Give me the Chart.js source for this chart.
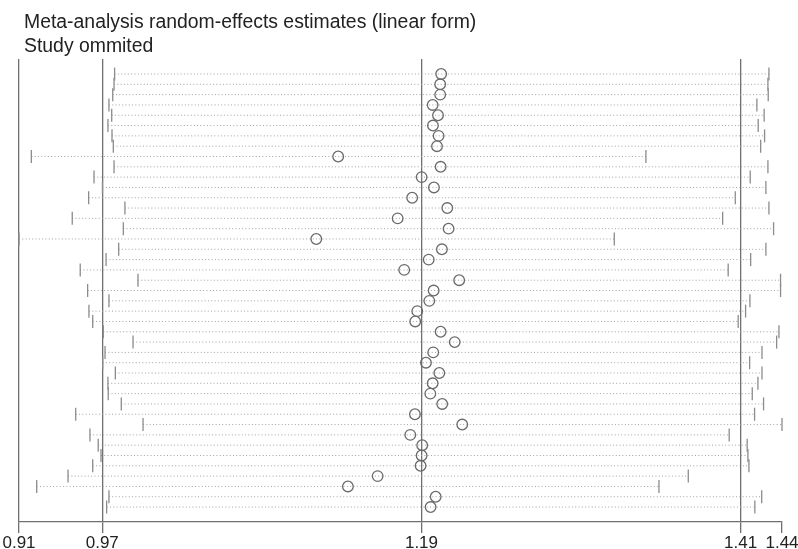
<!DOCTYPE html>
<html>
<head>
<meta charset="utf-8">
<script src="https://cdn.jsdelivr.net/npm/chart.js@4/dist/chart.umd.min.js"></script>
<style>
  html, body { margin: 0; padding: 0; background: #fff; }
  canvas { display: block; }
</style>
</head>
<body>
<canvas id="myChart" width="798" height="549"></canvas>
<script>
var titleLines = ['Meta-analysis random-effects estimates (linear form)', 'Study ommited'];

// one value per omitted study, top row first
var estimate = [1.2036, 1.2029, 1.2029, 1.1977, 1.2014, 1.1979, 1.2018, 1.2007, 1.1326, 1.2032,
                1.1901, 1.1986, 1.1836, 1.2078, 1.1736, 1.2087, 1.1175, 1.2041, 1.1950, 1.1781,
                1.2160, 1.1984, 1.1954, 1.1871, 1.1857, 1.2032, 1.2129, 1.1981, 1.1931, 1.2023,
                1.1977, 1.1961, 1.2043, 1.1855, 1.2181, 1.1823, 1.1905, 1.1901, 1.1894, 1.1598,
                1.1393, 1.1998, 1.1963];
var lowerCI = [0.9785, 0.9781, 0.9772, 0.9746, 0.9765, 0.9739, 0.9767, 0.9776, 0.9211, 0.9781,
               0.9643, 0.9701, 0.9606, 0.9856, 0.9493, 0.9845, 0.9126, 0.9813, 0.9726, 0.9548,
               0.9946, 0.9599, 0.9746, 0.9608, 0.9634, 0.9707, 0.9912, 0.9719, 0.9703, 0.9790,
               0.9739, 0.9741, 0.9831, 0.9517, 0.9981, 0.9615, 0.9672, 0.9691, 0.9634, 0.9464,
               0.9248, 0.9746, 0.9730];
var upperCI = [1.4295, 1.4288, 1.4290, 1.4212, 1.4262, 1.4221, 1.4265, 1.4238, 1.3447, 1.4288,
               1.4166, 1.4274, 1.4063, 1.4295, 1.3976, 1.4327, 1.3229, 1.4274, 1.4169, 1.4014,
               1.4375, 1.4375, 1.4164, 1.4134, 1.4083, 1.4364, 1.4348, 1.4247, 1.4162, 1.4247,
               1.4219, 1.4180, 1.4258, 1.4196, 1.4385, 1.4021, 1.4145, 1.4150, 1.4157, 1.3739,
               1.3537, 1.4245, 1.4198];

// axis: lowest CI, pooled lower CI, pooled estimate, pooled upper CI, highest CI
var tickValues = [0.9126, 0.97, 1.19, 1.41, 1.4385];
var tickLabels = ['0.91', '0.97', '1.19', '1.41', '1.44'];

function buildDatasets()
{
    var datasets = [];
    var pts = [];
    for (var i = 0; i < estimate.length; i++) {
        pts.push({x: estimate[i], y: i + 1});
    }
    datasets.push({
        data: pts,
        order: 0,
        showLine: false,
        clip: false,
        pointStyle: 'circle',
        pointRadius: 5.3,
        pointBorderWidth: 1.3,
        pointBorderColor: '#6a6a6a',
        pointBackgroundColor: 'rgba(0,0,0,0)'
    });
    for (var j = 0; j < lowerCI.length; j++) {
        datasets.push({
            data: [{x: lowerCI[j], y: j + 1}, {x: upperCI[j], y: j + 1}],
            order: 1,
            showLine: true,
            clip: false,
            borderColor: '#a2a2a2',
            borderWidth: 1,
            borderDash: [1, 2.3],
            pointStyle: 'line',
            pointRotation: 90,
            pointRadius: 6.5,
            pointBorderWidth: 1.3,
            pointBorderColor: '#8c8c8c'
        });
    }
    return datasets;
}

// title sits a little to the right of the left axis line
var titleShift = {
    id: 'titleShift',
    afterLayout: function (chart) {
        if (chart.titleBlock) {
            chart.titleBlock.left += 5;
            chart.titleBlock.right += 5;
        }
    }
};

var ctx = document.getElementById('myChart').getContext('2d');
var chart = new Chart(ctx, {
    type: 'scatter',
    data: { datasets: buildDatasets() },
    plugins: [titleShift],
    options: {
        responsive: false,
        animation: false,
        events: [],
        layout: { padding: { left: 19, right: 16, top: 0, bottom: -5 } },
        plugins: {
            legend: { display: false },
            tooltip: { enabled: false },
            title: {
                display: true,
                text: titleLines,
                align: 'start',
                color: '#222',
                font: { family: 'Liberation Sans, Arial, sans-serif', size: 19.4, weight: 'normal', lineHeight: 1.2 },
                padding: { top: 11.5, bottom: 1 }
            }
        },
        scales: {
            x: {
                type: 'linear',
                min: tickValues[0],
                max: tickValues[tickValues.length - 1],
                afterBuildTicks: function (scale) {
                    scale.ticks = tickValues.map(function (v) { return {value: v}; });
                },
                afterFit: function (scale) {
                    scale.paddingLeft = 0;
                    scale.paddingRight = 0;
                },
                grid: {
                    drawOnChartArea: true,
                    drawTicks: true,
                    tickLength: 11,
                    lineWidth: 1.3,
                    color: function (c) {
                        return c.index === tickValues.length - 1 ? 'rgba(0,0,0,0)' : '#707070';
                    },
                    tickColor: '#707070',
                    tickWidth: 1.3
                },
                border: { display: true, color: '#707070', width: 1.3 },
                ticks: {
                    autoSkip: false,
                    maxRotation: 0,
                    padding: 2,
                    color: '#222',
                    font: { family: 'Liberation Sans, Arial, sans-serif', size: 17, lineHeight: 1 },
                    callback: function (value, index) { return tickLabels[index]; }
                }
            },
            y: {
                type: 'linear',
                display: false,
                reverse: true,
                min: -0.45,
                max: estimate.length + 1.45
            }
        }
    }
});
</script>
</body>
</html>
